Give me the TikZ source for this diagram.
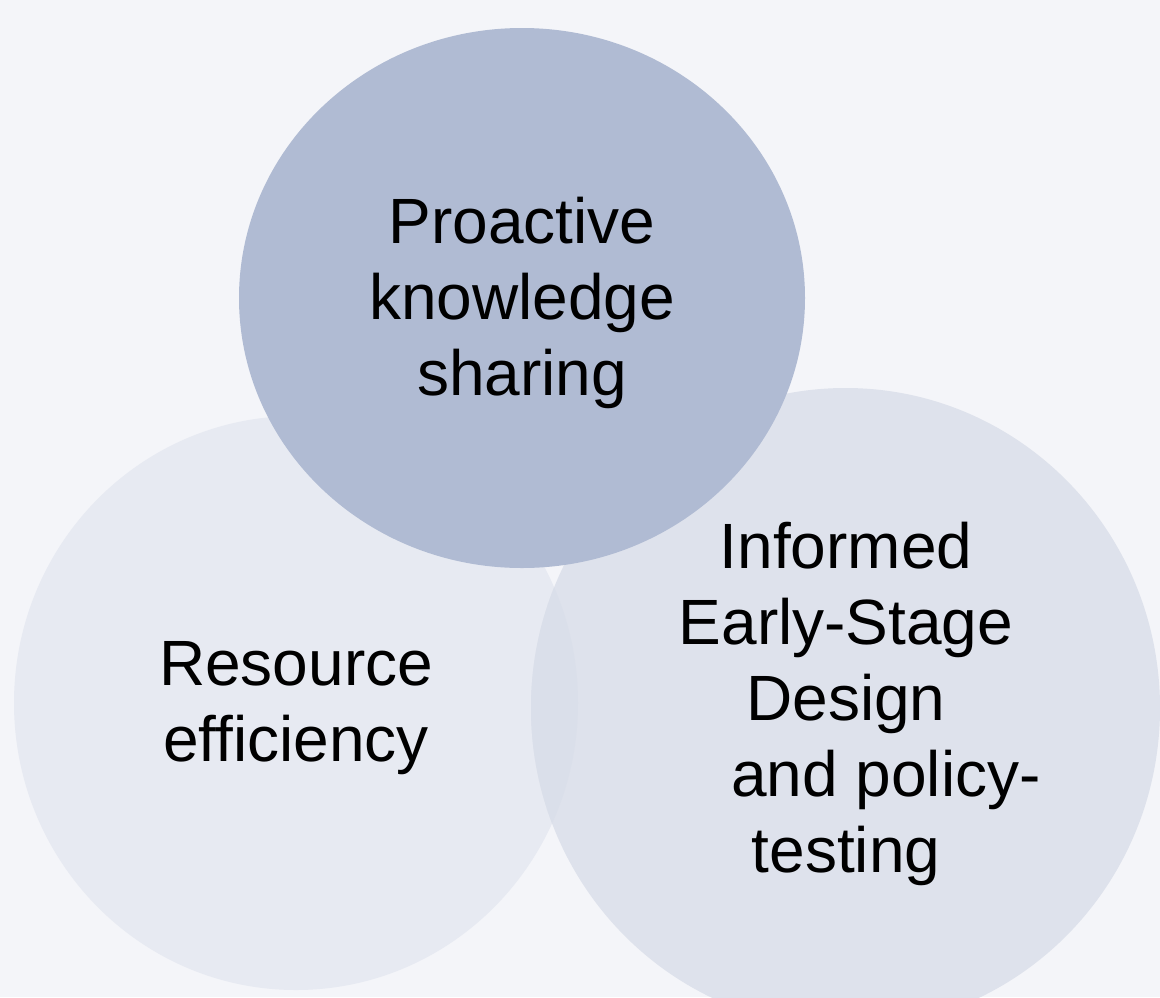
\documentclass[tikz,border=0pt]{standalone}
\usepackage{fontspec}
\setmainfont{Liberation Sans}[Ligatures=NoCommon]
\definecolor{bgc}{HTML}{F4F5F9}
\definecolor{topc}{HTML}{B0BBD3}
\definecolor{leftc}{HTML}{E7EAF2}
\definecolor{rightc}{HTML}{DEE2EC}
\definecolor{lensc}{HTML}{DADFEA}
\begin{document}
\begin{tikzpicture}[x=1pt,y=-1pt,
  lbl/.style={font=\fontsize{64}{76}\selectfont, align=center, anchor=north, inner sep=0pt}]
\fill[bgc] (0,0) rectangle (1160,997);
\useasboundingbox (0,0) rectangle (1160,997);
% the three circles
\fill[leftc] (296,703) ellipse [x radius=282pt, y radius=287pt];
\fill[rightc] (845.5,708) ellipse [x radius=314.5pt, y radius=320pt];
\begin{scope}
\clip (296,703) ellipse [x radius=282pt, y radius=287pt];
\fill[lensc] (845.5,708) ellipse [x radius=314.5pt, y radius=320pt];
\end{scope}
\fill[topc] (522,298) ellipse [x radius=283pt, y radius=270pt];
% labels
\node[lbl] (share) at (522,197) {Proactive\\knowledge\\sharing};
\node[lbl] (resource) at (296,641.5) {Resource\\efficiency};
\node[lbl] (design) at (846,522) {Informed\\Early-Stage\\Design\\\hspace*{80pt}and policy-\\testing};
\end{tikzpicture}
\end{document}
